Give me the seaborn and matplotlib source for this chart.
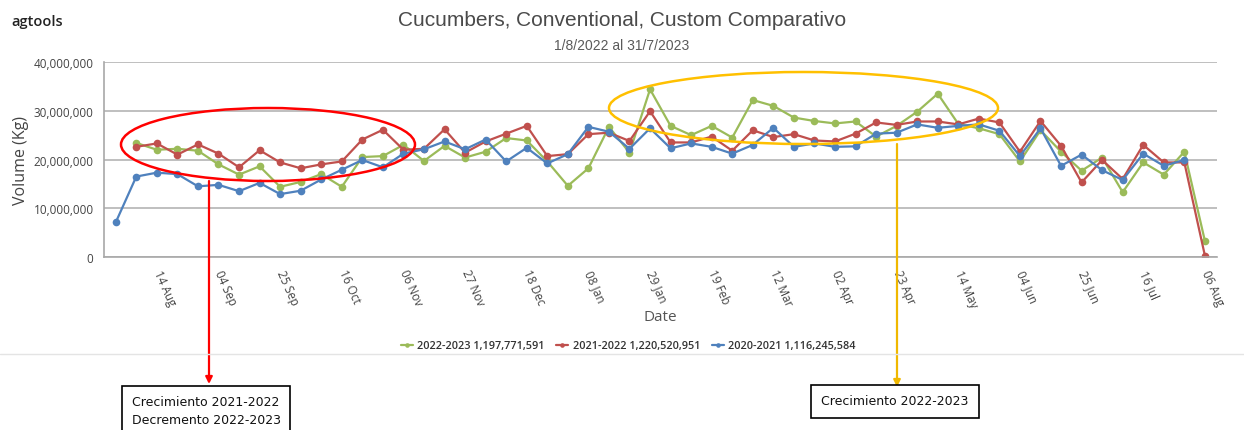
import pandas as pd
import matplotlib.pyplot as plt
import matplotlib.dates as mdates
from matplotlib.patches import Ellipse
from matplotlib.lines import Line2D
from matplotlib.ticker import FuncFormatter
import seaborn as sns

# weekly volumes in millions of kg, one point per week
week_start = '2022-07-29'

vol_2020_2021 = [7.1, 16.5, 17.3, 17.0, 14.5, 14.8, 13.5, 15.2, 12.9, 13.6, 15.9, 17.9, 19.9, 18.4,
                 21.2, 22.1, 23.7, 22.1, 24.1, 19.6, 22.4, 19.2, 21.1, 26.7, 25.7, 22.2, 26.4, 22.3,
                 23.3, 22.6, 21.2, 23.0, 26.5, 22.6, 23.3, 22.6, 22.7, 25.3, 25.5, 27.2, 26.5, 26.9,
                 27.2, 25.9, 20.7, 26.4, 18.7, 21.0, 17.8, 15.8, 21.2, 18.7, 19.9]
vol_2021_2022 = [22.6, 23.3, 21.0, 23.1, 21.2, 18.4, 21.9, 19.4, 18.2, 19.0, 19.6, 24.1, 26.1,
                 22.0, 22.2, 26.2, 21.4, 23.7, 25.3, 26.9, 20.7, 21.1, 25.2, 25.5, 23.8, 29.9, 23.5,
                 23.5, 24.7, 21.8, 26.0, 24.6, 25.2, 23.9, 23.7, 25.3, 27.6, 27.1, 27.8, 27.8,
                 27.2, 28.4, 27.6, 21.6, 27.9, 22.8, 15.3, 19.9, 16.0, 23.0, 19.4, 19.4, 0.3]
vol_2022_2023 = [23.4, 22.0, 22.2, 21.8, 19.0, 16.9, 18.6, 14.4, 15.4, 17.0, 14.4, 20.5, 20.7,
                 23.0, 19.7, 22.8, 20.4, 21.6, 24.4, 23.9, 19.6, 14.6, 18.2, 26.7, 21.4, 34.4, 26.9,
                 25.0, 26.9, 24.5, 32.2, 31.0, 28.6, 27.9, 27.4, 27.8, 24.7, 26.9, 29.8, 33.5,
                 27.3, 26.4, 25.2, 19.6, 26.0, 21.6, 17.7, 20.4, 13.3, 19.4, 16.9, 21.6, 3.3]

seasons = ['2022-2023 1,197,771,591', '2021-2022 1,220,520,951', '2020-2021 1,116,245,584']
colors = ['#9BBB59', '#C0504D', '#4F81BD']

weeks = pd.date_range(week_start, periods=54, freq='7D')
frames = []
for name, vals, first in [(seasons[0], vol_2022_2023, 1),
                          (seasons[1], vol_2021_2022, 1),
                          (seasons[2], vol_2020_2021, 0)]:
    frames.append(pd.DataFrame({'Date': weeks[first:first + len(vals)],
                                'Volume': [v * 1e6 for v in vals],
                                'Season': name}))
df = pd.concat(frames, ignore_index=True)

sns.set_style('white')
plt.rcParams['font.family'] = ['Open Sans', 'DejaVu Sans']

fig = plt.figure(figsize=(12.44, 4.31), dpi=100)
ax = fig.add_axes([0.0836, 0.4014, 0.8944, 0.4524])

sns.lineplot(data=df, x='Date', y='Volume', hue='Season', hue_order=seasons,
             palette=colors, marker='o', markersize=5.5, markeredgewidth=0,
             linewidth=1.6, ax=ax)

ax.set_ylim(0, 40e6)
ax.set_xlim(pd.Timestamp('2022-07-25'), pd.Timestamp('2023-08-08'))
ax.set_yticks([0, 10e6, 20e6, 30e6, 40e6])
ax.yaxis.set_major_formatter(FuncFormatter(lambda v, p: f'{v:,.0f}'))
ticks = pd.date_range('2022-08-14', '2023-08-06', freq='21D')
ax.set_xticks(ticks)
ax.xaxis.set_major_formatter(mdates.DateFormatter('%d %b'))
ax.grid(axis='y', color='#b4b4b4', linewidth=1.2)
ax.grid(axis='x', visible=False)
for s in ['top', 'right']:
    ax.spines[s].set_visible(False)
for s in ['left', 'bottom']:
    ax.spines[s].set_color('#a8a8a8')
    ax.spines[s].set_linewidth(1.2)
ax.tick_params(axis='both', colors='#a8a8a8', length=4, labelcolor='#444444', labelsize=8.5)
plt.setp(ax.get_xticklabels(), rotation=-66, ha='left', va='top', rotation_mode='anchor')
ax.set_xlabel('Date', fontsize=11, color='#555555', labelpad=0)
ax.set_ylabel('Volume (Kg)', fontsize=11.5, color='#444444', labelpad=3)

handles, labels = ax.get_legend_handles_labels()
ax.legend(handles, labels, loc='center', bbox_to_anchor=(0.505, 0.195),
          bbox_transform=fig.transFigure, ncol=3, frameon=False, fontsize=7.8,
          handlelength=1.1, handletextpad=0.4, columnspacing=1.1, markerscale=0.6)
for t in ax.get_legend().get_texts():
    t.set_color('#333333')
    t.set_fontweight('semibold')

fig.text(0.5, 0.953, 'Cucumbers, Conventional, Custom Comparativo', ha='center', va='center',
         fontsize=15, color='#4a4a4a', family='Liberation Sans')
fig.text(0.5, 0.893, '1/8/2022 al 31/7/2023', ha='center', va='center',
         fontsize=10, color='#5a5a5a', family='Liberation Sans')
fig.text(0.0095, 0.949, 'agtools', ha='left', va='center', fontsize=10.5,
         color='#222222', fontweight='semibold')

fig.add_artist(Line2D([0, 1], [1 - 355 / 431, 1 - 355 / 431], color='#e4e4e4', linewidth=1))


def fx(px):
    return px / 1244


def fy(py):
    return 1 - py / 431


fig.add_artist(Ellipse((fx(268), fy(145.5)), 294 / 1244, 73 / 431, transform=fig.transFigure,
                       fill=False, edgecolor='#ff0000', linewidth=1.8))
fig.add_artist(Ellipse((fx(803.5), fy(109)), 389 / 1244, 72 / 431, transform=fig.transFigure,
                       fill=False, edgecolor='#ffc000', linewidth=1.8))

ax.annotate('', xy=(fx(209), fy(385)), xytext=(fx(209), fy(182)), xycoords='figure fraction',
            textcoords='figure fraction', annotation_clip=False,
            arrowprops=dict(arrowstyle='-|>', color='#ff0000', lw=1.6, mutation_scale=10,
                            shrinkA=0, shrinkB=0))
ax.annotate('', xy=(fx(897), fy(388)), xytext=(fx(897), fy(145)), xycoords='figure fraction',
            textcoords='figure fraction', annotation_clip=False,
            arrowprops=dict(arrowstyle='-|>', color='#f0b800', lw=1.6, mutation_scale=10,
                            shrinkA=0, shrinkB=0))

box = dict(boxstyle='square,pad=0.75', facecolor='white', edgecolor='black', linewidth=1.2)
fig.text(fx(206), fy(412), 'Crecimiento 2021-2022\nDecremento 2022-2023', ha='center', va='center',
         fontsize=9, color='#111111', linespacing=1.5, bbox=box,
         family=['Liberation Sans Narrow', 'DejaVu Sans'])
fig.text(fx(895), fy(402), 'Crecimiento 2022-2023', ha='center', va='center',
         fontsize=9, color='#111111', bbox=dict(boxstyle='square,pad=0.8', facecolor='white',
                                                 edgecolor='black', linewidth=1.2),
         family=['Liberation Sans Narrow', 'DejaVu Sans'])

fig.savefig('out.png', dpi=100)
